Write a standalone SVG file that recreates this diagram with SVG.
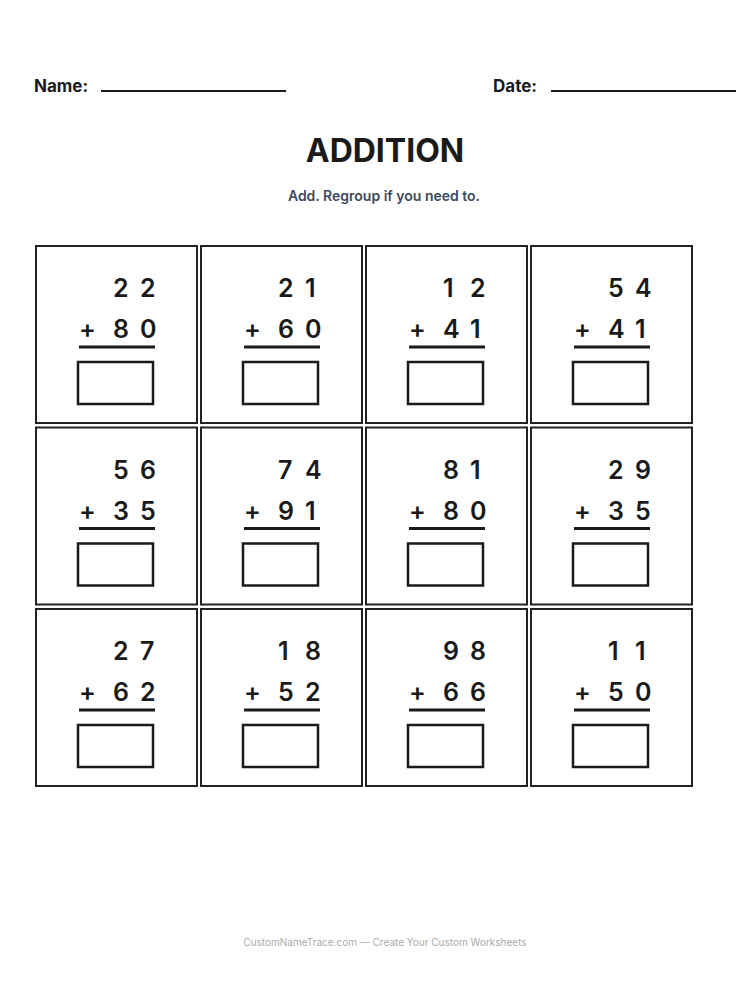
<svg xmlns="http://www.w3.org/2000/svg" width="750" height="1000" viewBox="0 0 750 1000">
<style>
text{font-family:Inter,"Liberation Sans",sans-serif;fill:#1a1a1a}
.lbl{font-size:17px;font-weight:700}
.d{font-size:25px;font-weight:600}
.cell{fill:#fff;stroke:#222;stroke-width:2}
.ans{fill:none;stroke:#1a1a1a;stroke-width:2.5}
.bar{stroke:#1a1a1a;stroke-width:3}
.ul{stroke:#1a1a1a;stroke-width:2}
</style>
<rect width="750" height="1000" fill="#fff"/>
<g id="header">
<text class="lbl" x="34" y="92">Name:</text>
<line class="ul" x1="101" y1="91" x2="286" y2="91"/>
<text class="lbl" x="493" y="92">Date:</text>
<line class="ul" x1="551" y1="91" x2="736" y2="91"/>
<text x="385" y="162" text-anchor="middle" font-size="32" font-weight="700">ADDITION</text>
<text x="384" y="201" text-anchor="middle" font-size="14" font-weight="600" style="fill:#3b4a5e">Add. Regroup if you need to.</text>
</g>
<defs>
<g id="frame">
<rect class="cell" x="0" y="0" width="161" height="177"/>
<line class="bar" x1="43" y1="101" x2="119" y2="101"/>
<rect class="ans" x="42" y="116" width="75" height="42"/>
<text class="d" x="43" y="92">+</text>
</g>
</defs>
<g id="p1" transform="translate(36,246)"><use href="#frame"/><text class="d" x="77" y="51">2</text><text class="d" x="104" y="51">2</text><text class="d" x="77" y="92">8</text><text class="d" x="104" y="92">0</text></g>
<g id="p2" transform="translate(201,246)"><use href="#frame"/><text class="d" x="77" y="51">2</text><text class="d" x="104" y="51">1</text><text class="d" x="77" y="92">6</text><text class="d" x="104" y="92">0</text></g>
<g id="p3" transform="translate(366,246)"><use href="#frame"/><text class="d" x="77" y="51">1</text><text class="d" x="104" y="51">2</text><text class="d" x="77" y="92">4</text><text class="d" x="104" y="92">1</text></g>
<g id="p4" transform="translate(531,246)"><use href="#frame"/><text class="d" x="77" y="51">5</text><text class="d" x="104" y="51">4</text><text class="d" x="77" y="92">4</text><text class="d" x="104" y="92">1</text></g>
<g id="p5" transform="translate(36,427.5)"><use href="#frame"/><text class="d" x="77" y="51">5</text><text class="d" x="104" y="51">6</text><text class="d" x="77" y="92">3</text><text class="d" x="104" y="92">5</text></g>
<g id="p6" transform="translate(201,427.5)"><use href="#frame"/><text class="d" x="77" y="51">7</text><text class="d" x="104" y="51">4</text><text class="d" x="77" y="92">9</text><text class="d" x="104" y="92">1</text></g>
<g id="p7" transform="translate(366,427.5)"><use href="#frame"/><text class="d" x="77" y="51">8</text><text class="d" x="104" y="51">1</text><text class="d" x="77" y="92">8</text><text class="d" x="104" y="92">0</text></g>
<g id="p8" transform="translate(531,427.5)"><use href="#frame"/><text class="d" x="77" y="51">2</text><text class="d" x="104" y="51">9</text><text class="d" x="77" y="92">3</text><text class="d" x="104" y="92">5</text></g>
<g id="p9" transform="translate(36,609)"><use href="#frame"/><text class="d" x="77" y="51">2</text><text class="d" x="104" y="51">7</text><text class="d" x="77" y="92">6</text><text class="d" x="104" y="92">2</text></g>
<g id="p10" transform="translate(201,609)"><use href="#frame"/><text class="d" x="77" y="51">1</text><text class="d" x="104" y="51">8</text><text class="d" x="77" y="92">5</text><text class="d" x="104" y="92">2</text></g>
<g id="p11" transform="translate(366,609)"><use href="#frame"/><text class="d" x="77" y="51">9</text><text class="d" x="104" y="51">8</text><text class="d" x="77" y="92">6</text><text class="d" x="104" y="92">6</text></g>
<g id="p12" transform="translate(531,609)"><use href="#frame"/><text class="d" x="77" y="51">1</text><text class="d" x="104" y="51">1</text><text class="d" x="77" y="92">5</text><text class="d" x="104" y="92">0</text></g>
<g id="connectors"/>
<text x="385" y="946" text-anchor="middle" font-size="10" style="fill:#aaa">CustomNameTrace.com — Create Your Custom Worksheets</text>
</svg>
